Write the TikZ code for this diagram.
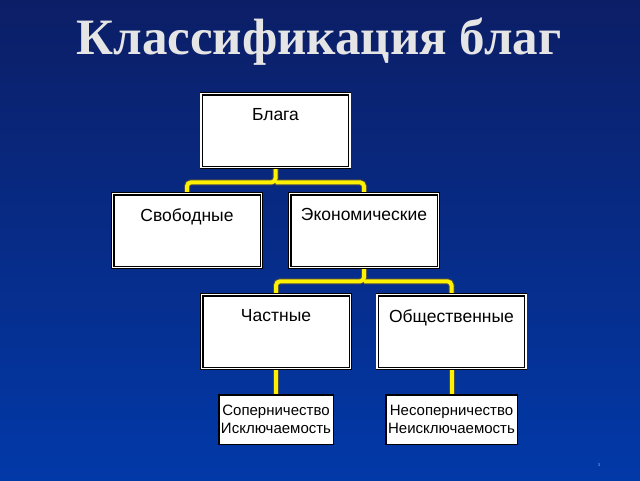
\documentclass[tikz,border=0pt]{standalone}
\usepackage{fontspec}
\setmainfont{Liberation Serif}
\setsansfont{Liberation Sans}
\usetikzlibrary{positioning}

\definecolor{slidetop}{HTML}{0C1E66}
\definecolor{slidebot}{HTML}{0239A8}
\definecolor{linkyellow}{HTML}{FFF200}

\tikzset{
  box/.style={draw=black, fill=white, double=white, double distance=1.6pt,
    line width=0.7pt, minimum width=148pt, minimum height=73pt, inner sep=0pt},
  boxtext/.style={font=\sffamily\fontsize{17.5}{20}\selectfont, anchor=north},
  small/.style={draw=black, fill=white, line width=0.8pt, align=center,
    font=\sffamily\fontsize{15}{18}\selectfont, minimum height=49pt, inner sep=1pt},
  link/.style={line width=6pt, draw=black!70, rounded corners=4pt},
  linkin/.style={line width=4pt, draw=linkyellow, rounded corners=4pt}
}

\begin{document}
\begin{tikzpicture}[x=1pt,y=-1pt]
\shade[top color=slidetop, bottom color=slidebot] (0,0) rectangle (640,480);
\useasboundingbox (0,0) rectangle (640,480);

% title
\node[text=white!90!black, font=\bfseries\fontsize{51}{54}\selectfont] (title) at (319,42) {Классификация благ};

% boxes
\node[box] (blaga) at (275.5,130.5) {};
\node[box] (svob) at (187,230.5) {};
\node[box] (econ) at (364,230.5) {};
\node[box] (chast) at (276,331.5) {};
\node[box] (obsh) at (451.5,331.5) {};
\node[boxtext] at ([yshift=-11pt]blaga.north) {Блага};
\node[boxtext] at ([yshift=-11pt]svob.north) {Свободные};
\node[boxtext] at ([yshift=-11pt]econ.north) {Экономические};
\node[boxtext] at ([yshift=-11pt]chast.north) {Частные};
\node[boxtext] at ([yshift=-11pt]obsh.north) {Общественные};

\node[small, minimum width=114pt] (sop) at (276,419.5) {Соперничество\\Исключаемость};
\node[small, minimum width=131pt] (nesop) at (451.5,419.5) {Несоперничество\\Неисключаемость};

% connectors
\foreach \s in {link,linkin}{
  \draw[\s] (blaga.south) -- ++(0,15) -| (svob.north);
  \draw[\s] (blaga.south) ++(0,15) -| (econ.north);
  \draw[\s] (econ.south) -- ++(0,14) -| (chast.north);
  \draw[\s] (econ.south) ++(0,14) -| (obsh.north);
  \draw[\s] (chast.south) -- (sop.north);
  \draw[\s] (obsh.south) -- (nesop.north);
}
% redraw boxes over connector ends
\foreach \n in {blaga,svob,econ,chast,obsh}
  \draw[draw=black, double=white, double distance=1.6pt, line width=0.7pt]
    (\n.north west) rectangle (\n.south east);
\draw[line width=0.8pt] (sop.north west) rectangle (sop.south east);
\draw[line width=0.8pt] (nesop.north west) rectangle (nesop.south east);

\node[text=white!70!blue, font=\sffamily\fontsize{4}{4}\selectfont] (num) at (599,465) {3};
\end{tikzpicture}
\end{document}
